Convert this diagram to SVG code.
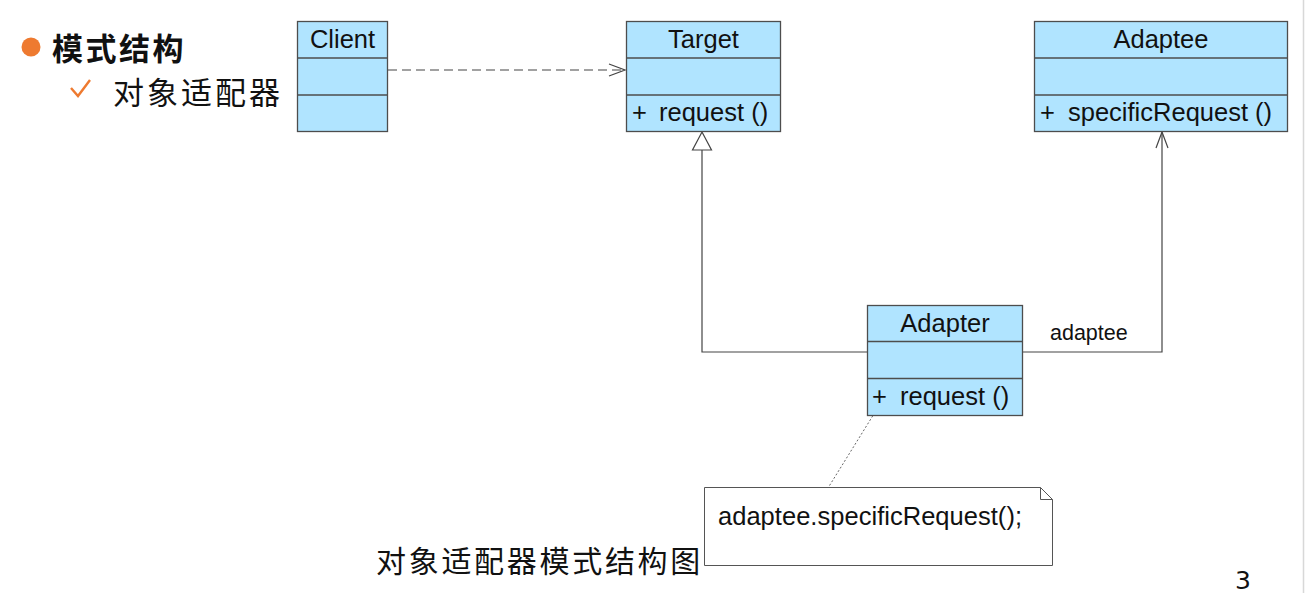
<svg xmlns="http://www.w3.org/2000/svg" width="1305" height="593" viewBox="0 0 1305 593">
<style>
.box{fill:#B0E4FF;stroke:#4d4d4d;stroke-width:1.3}
.sep{stroke:#4d4d4d;stroke-width:1.3}
.t{font-family:"Liberation Sans",Arial,sans-serif;font-size:25.5px;fill:#111}
.c{text-anchor:middle}
.ln{fill:none;stroke:#444;stroke-width:1.2}
.cjk{font-family:"Noto Sans CJK SC","Liberation Sans",sans-serif;fill:#111}
</style>
<defs>
<marker id="open" markerWidth="20" markerHeight="14" refX="17" refY="7" orient="auto" markerUnits="userSpaceOnUse">
<path d="M1,1 L17,7 L1,13" fill="none" stroke="#444" stroke-width="1.2"/>
</marker>
</defs>
<rect width="1305" height="593" fill="#fff"/>
<line x1="1303.5" y1="0" x2="1303.5" y2="593" stroke="#d8d8d8" stroke-width="1.5"/>

<g id="heading">
<circle cx="31" cy="47" r="9.5" fill="#EE7A30"/>
<text x="52" y="60" class="cjk" font-size="31" font-weight="bold" letter-spacing="2.5">模式结构</text>
<path d="M71,88 L78,96 L90,80" fill="none" stroke="#EE7A30" stroke-width="2.4"/>
<text x="113" y="104" class="cjk" font-size="31" letter-spacing="3">对象适配器</text>
</g>

<g id="connectors">
<line x1="388" y1="70" x2="625" y2="70" class="ln" stroke-dasharray="9,5" marker-end="url(#open)"/>
<path d="M867,352 H702 V150" class="ln"/>
<path d="M702,132 L692.5,150 L711.5,150 Z" fill="#fff" stroke="#444" stroke-width="1.2"/>
<path d="M1023,352 H1162 V132" class="ln" marker-end="url(#open)"/>
<line x1="877" y1="409" x2="828" y2="488" stroke="#666" stroke-width="1" stroke-dasharray="2,2"/>
<text x="1050" y="340" class="t" style="font-size:21.5px">adaptee</text>
</g>

<g id="client">
<rect x="297.5" y="21.5" width="90" height="110" class="box"/>
<line x1="297.5" y1="58" x2="387.5" y2="58" class="sep"/>
<line x1="297.5" y1="95" x2="387.5" y2="95" class="sep"/>
<text x="342.5" y="48" class="t c">Client</text>
</g>

<g id="target">
<rect x="626.5" y="21.5" width="154" height="110" class="box"/>
<line x1="626.5" y1="58" x2="780.5" y2="58" class="sep"/>
<line x1="626.5" y1="95" x2="780.5" y2="95" class="sep"/>
<text x="703.5" y="48" class="t c">Target</text>
<text x="632" y="121" class="t">+</text>
<text x="659" y="121" class="t">request ()</text>
</g>

<g id="adaptee">
<rect x="1034.5" y="21.5" width="253" height="110" class="box"/>
<line x1="1034.5" y1="58" x2="1287.5" y2="58" class="sep"/>
<line x1="1034.5" y1="95" x2="1287.5" y2="95" class="sep"/>
<text x="1161" y="48" class="t c">Adaptee</text>
<text x="1040" y="121" class="t">+</text>
<text x="1068" y="121" class="t">specificRequest ()</text>
</g>

<g id="adapter">
<rect x="867.5" y="305.5" width="155" height="110" class="box"/>
<line x1="867.5" y1="341.5" x2="1022.5" y2="341.5" class="sep"/>
<line x1="867.5" y1="378.5" x2="1022.5" y2="378.5" class="sep"/>
<text x="945" y="332" class="t c">Adapter</text>
<text x="872" y="405" class="t">+</text>
<text x="900" y="405" class="t">request ()</text>
</g>

<g id="note">
<path d="M704.5,487.5 H1040.5 L1052.5,499.5 V565.5 H704.5 Z" fill="#fff" stroke="#555" stroke-width="1"/>
<path d="M1040.5,487.5 V499.5 H1052.5" fill="none" stroke="#555" stroke-width="1"/>
<text x="718" y="525" class="t" textLength="304">adaptee.specificRequest();</text>
</g>

<g id="caption">
<text x="376" y="572" class="cjk" font-size="30" letter-spacing="2.7">对象适配器模式结构图</text>
<text x="1235" y="589" font-family="DejaVu Sans,sans-serif" font-size="25" fill="#111">3</text>
</g>
</svg>
